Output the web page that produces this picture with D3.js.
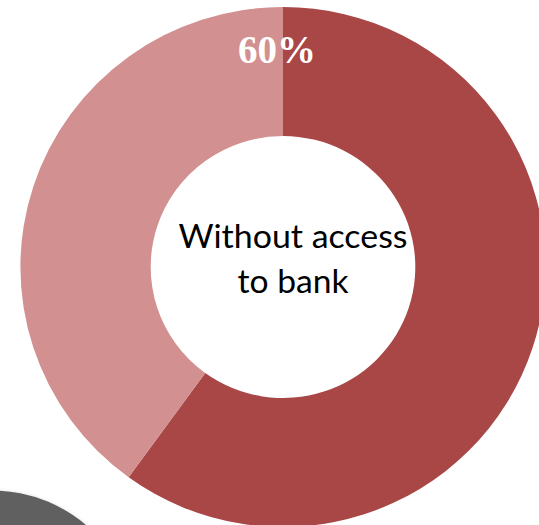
<!DOCTYPE html>
<html>
<head>
<meta charset="utf-8">
<script src="https://cdn.jsdelivr.net/npm/d3@7"></script>
<style>
  html, body { margin: 0; padding: 0; background: #ffffff; }
  svg { display: block; }
</style>
</head>
<body>
<svg id="chart" width="539" height="525"></svg>
<script>
// ---- data ----
const categories = ["Without access to bank", "With access to bank"];
const values = [60, 40];
const colors = ["#A94646", "#D29090"];
const valueLabel = "60%";
const centerLines = ["Without access", "to bank"];

// ---- layout ----
const W = 539, H = 525;
const cx = 283, cy = 267;
const outerR = 260, innerR = 131;

const svg = d3.select("#chart");

// soft edge filter for the decorative grey disc
const defs = svg.append("defs");
const f = defs.append("filter").attr("id", "glow").attr("x", "-20%").attr("y", "-20%").attr("width", "140%").attr("height", "140%");
f.append("feGaussianBlur").attr("in", "SourceGraphic").attr("stdDeviation", 0.8);

// decorative grey disc partially visible at bottom-left
svg.append("circle")
  .attr("cx", -8).attr("cy", 636).attr("r", 147)
  .attr("fill", "#f2f2f2").attr("filter", "url(#glow)");
svg.append("circle")
  .attr("cx", -8).attr("cy", 636).attr("r", 145.5)
  .attr("fill", "#606060");

const pie = d3.pie().sort(null).value(d => d).startAngle(0).endAngle(2 * Math.PI);
const arc = d3.arc().innerRadius(innerR).outerRadius(outerR);

const g = svg.append("g").attr("transform", `translate(${cx},${cy}) scale(1.01,1)`);

g.selectAll("path.slice")
  .data(pie(values))
  .join("path")
  .attr("class", "slice")
  .attr("d", arc)
  .attr("fill", (d, i) => colors[i]);

// value label (white bold serif, top of ring)
svg.append("text")
  .attr("x", cx - 6)
  .attr("y", cy - outerR + 56)
  .attr("text-anchor", "middle")
  .attr("font-family", "'Liberation Serif', 'Times New Roman', serif")
  .attr("font-weight", "bold")
  .attr("font-size", 39)
  .attr("fill", "#ffffff")
  .text(valueLabel);

// centre label
const lineWidths = [229, 111];
svg.append("g")
  .selectAll("text")
  .data(centerLines)
  .join("text")
  .attr("x", cx + 10)
  .attr("y", (d, i) => 248 + i * 44.5)
  .attr("text-anchor", "middle")
  .attr("font-family", "Lato, 'Open Sans', sans-serif")
  .attr("font-size", 32.5)
  .attr("fill", "#000000")
  .attr("textLength", (d, i) => lineWidths[i])
  .attr("lengthAdjust", "spacingAndGlyphs")
  .text(d => d);
</script>
</body>
</html>
